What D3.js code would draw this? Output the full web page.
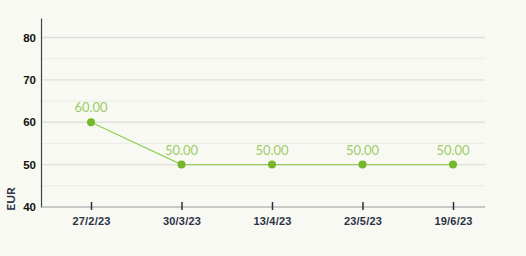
<!DOCTYPE html>
<html lang="en">
<head>
    <meta charset="UTF-8">
    <title>EUR price chart</title>
    <script src="https://d3js.org/d3.v7.min.js"></script>
    <style>
        body { margin: 0; background: #f9f9f4; }
        svg { display: block; font-family: Lato, "Open Sans", sans-serif; }
    </style>
</head>
<body>
    <div id="chart"></div>
    <script>
        // Chart data
        const dates = ["27/2/23", "30/3/23", "13/4/23", "23/5/23", "19/6/23"];
        const prices = [60, 50, 50, 50, 50];
        const yTicks = [40, 50, 60, 70, 80];
        const yMinorTicks = [45, 55, 65, 75];

        const W = 526, H = 256;
        const margin = {top: 18, right: 41, bottom: 49, left: 41};
        const width = W - margin.left - margin.right;
        const height = H - margin.top - margin.bottom;

        const svg = d3.select("#chart").append("svg")
            .attr("width", W)
            .attr("height", H);

        const g = svg.append("g")
            .attr("transform", `translate(${margin.left}, ${margin.top})`);

        // Scales
        const x = d3.scalePoint()
            .domain(dates)
            .range([50, 412]);

        const y = d3.scaleLinear()
            .domain([40, 84.6])
            .range([height, 0]);

        // Gridlines
        g.selectAll(".minor")
            .data(yMinorTicks)
            .enter().append("line")
            .attr("x1", 0).attr("x2", width)
            .attr("y1", d => y(d)).attr("y2", d => y(d))
            .attr("stroke", "#ecece6")
            .attr("stroke-width", 1);

        g.selectAll(".major")
            .data(yTicks.slice(1))
            .enter().append("line")
            .attr("x1", 0).attr("x2", width)
            .attr("y1", d => y(d)).attr("y2", d => y(d))
            .attr("stroke", "#e0e0da")
            .attr("stroke-width", 1.3);

        // Y axis
        const yAxis = g.append("g")
            .call(d3.axisLeft(y).tickValues(yTicks).tickSize(0).tickPadding(5));
        yAxis.select(".domain").attr("stroke", "#444").attr("stroke-width", 1.2);
        yAxis.selectAll("text")
            .style("font-size", "11.5px")
            .style("font-weight", "bold")
            .attr("fill", "#111");

        // X axis
        const xAxis = g.append("g")
            .attr("transform", `translate(0, ${height})`)
            .call(d3.axisBottom(x).tickSize(0).tickPadding(10));
        xAxis.select(".domain")
            .attr("d", `M0,0H${width}`)
            .attr("stroke", "#999")
            .attr("stroke-width", 1.2);
        xAxis.selectAll(".tick line")
            .attr("y1", -5).attr("y2", 3)
            .attr("stroke", "#2b3245")
            .attr("stroke-width", 1.5);
        xAxis.selectAll("text")
            .style("font-size", "11px")
            .style("font-weight", "bold")
            .style("letter-spacing", "0.2px")
            .attr("fill", "#2b3245");

        // Y label
        g.append("text")
            .attr("transform", `translate(${-30}, ${y(40) - 8}) rotate(-90)`)
            .attr("text-anchor", "middle")
            .attr("dy", "0.35em")
            .style("font-size", "12px")
            .style("font-weight", "bold")
            .attr("fill", "#2b3245")
            .text("EUR");

        // Line
        const line = d3.line()
            .x((d, i) => x(dates[i]))
            .y(d => y(d));

        g.append("path")
            .datum(prices)
            .attr("fill", "none")
            .attr("stroke", "#96cc5a")
            .attr("stroke-width", 1.3)
            .attr("d", line);

        // Points
        g.selectAll(".pt")
            .data(prices)
            .enter().append("circle")
            .attr("cx", (d, i) => x(dates[i]))
            .attr("cy", d => y(d))
            .attr("r", 4)
            .attr("fill", "#74b72a");

        // Value labels
        g.selectAll(".lbl")
            .data(prices)
            .enter().append("text")
            .attr("x", (d, i) => x(dates[i]))
            .attr("y", d => y(d) - 10)
            .attr("text-anchor", "middle")
            .style("font-size", "13px")
            .attr("fill", "#9ccc65")
            .text(d => d.toFixed(2));
    </script>
</body>
</html>
